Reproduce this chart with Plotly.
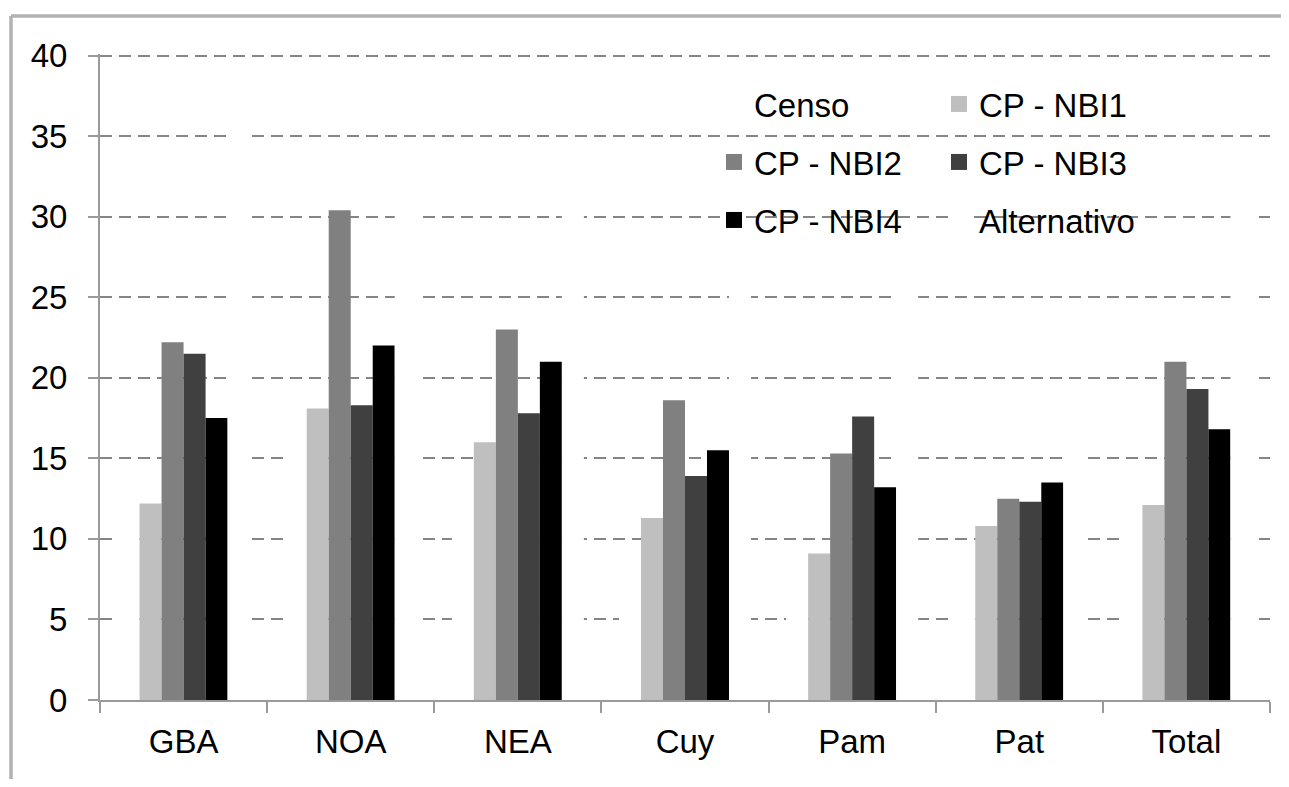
import plotly.graph_objects as go

# ---------------- data ----------------
categories = ["GBA", "NOA", "NEA", "Cuy", "Pam", "Pat", "Total"]
series_names = ["Censo", "CP - NBI1", "CP - NBI2", "CP - NBI3", "CP - NBI4", "Alternativo"]
censo = [12.5, 17.5, 13.5, 8.5, 7.5, 8.0, 12.5]
cp_nbi1 = [12.2, 18.1, 16.0, 11.3, 9.1, 10.8, 12.1]
cp_nbi2 = [22.2, 30.4, 23.0, 18.6, 15.3, 12.5, 21.0]
cp_nbi3 = [21.5, 18.3, 17.8, 13.9, 17.6, 12.3, 19.3]
cp_nbi4 = [17.5, 22.0, 21.0, 15.5, 13.2, 13.5, 16.8]
alternativo = [37.0, 32.0, 33.0, 29.0, 28.5, 17.0, 32.0]
y_ticks = [0, 5, 10, 15, 20, 25, 30, 35, 40]

series_values = [censo, cp_nbi1, cp_nbi2, cp_nbi3, cp_nbi4, alternativo]
colors = ["#ffffff", "#bfbfbf", "#808080", "#404040", "#000000", "#ffffff"]
legend_ids = ["legend", "legend", "legend2", "legend2", "legend3", "legend3"]

FONT = "Liberation Sans, Arial, sans-serif"
FS = 33

# ---------------- layout geometry (pixels) ----------------
OFF = 8                      # default page body margin
W, H = 1273, 771
L, R, T, B = 92, 11, 46, 79
PW = W - L - R
PH = H - T - B


def px_x(p):
    """viewport pixel x -> paper x"""
    return (p - OFF - L) / PW


def px_y(p):
    """viewport pixel y -> paper y"""
    return (H - B - (p - OFF)) / PH


fig = go.Figure()

for name, vals, col in zip(series_names, series_values, colors):
    fig.add_trace(go.Bar(
        x=categories, y=vals, name=name,
        marker=dict(color=col, line=dict(width=0)),
        showlegend=False,
    ))

# legend entries (square swatches)
for name, col, lg in zip(series_names, colors, legend_ids):
    fig.add_trace(go.Scatter(
        x=[None], y=[None], name=name, mode="markers",
        marker=dict(symbol="square", size=16, color=col, line=dict(width=0)),
        legend=lg, showlegend=True,
    ))

leg_common = dict(
    orientation="h", xanchor="left", yanchor="middle",
    font=dict(family=FONT, size=FS, color="#000000"),
    bgcolor="rgba(0,0,0,0)", borderwidth=0,
    entrywidth=180, entrywidthmode="pixels",
    itemclick=False, itemdoubleclick=False,
    tracegroupgap=0,
)
leg_x = px_x(714)

fig.update_layout(
    width=W, height=H,
    margin=dict(l=L, r=R, t=T, b=B, autoexpand=False),
    paper_bgcolor="#ffffff", plot_bgcolor="#ffffff",
    barmode="group", bargap=0.21, bargroupgap=0,
    font=dict(family=FONT, size=FS, color="#000000"),
    legend=dict(x=leg_x, y=px_y(104), **leg_common),
    legend2=dict(x=leg_x, y=px_y(162), **leg_common),
    legend3=dict(x=leg_x, y=px_y(220), **leg_common),
    xaxis=dict(
        type="category", categoryorder="array", categoryarray=categories,
        showline=True, linecolor="#9a9a9a", linewidth=2,
        ticks="outside", tickson="boundaries", ticklen=11, tickwidth=2, tickcolor="#9a9a9a",
        showgrid=False, zeroline=False, automargin=False,
        tickfont=dict(family=FONT, size=FS, color="#000000"),
        ticklabelstandoff=11,
    ),
    yaxis=dict(
        range=[0, 40.1], tickvals=y_ticks, ticktext=[str(v) for v in y_ticks],
        showline=True, linecolor="#9a9a9a", linewidth=2,
        ticks="outside", ticklen=10, tickwidth=2, tickcolor="#9a9a9a",
        showgrid=True, gridcolor="#858585", gridwidth=2, griddash="12px,7px",
        zeroline=False, automargin=False,
        tickfont=dict(family=FONT, size=FS, color="#000000"),
        ticklabelstandoff=14,
    ),
    shapes=[
        # white legend box hiding gridlines
        dict(type="rect", xref="paper", yref="paper", layer="between",
             x0=px_x(710), x1=px_x(1172), y0=px_y(248), y1=px_y(72),
             fillcolor="#ffffff", line=dict(width=0)),
        # outer chart frame (top and left edges; the rest runs off the picture)
        dict(type="line", xref="paper", yref="paper", layer="above",
             x0=px_x(11), x1=px_x(1300), y0=px_y(16), y1=px_y(16),
             line=dict(color="#c4c4c4", width=4)),
        dict(type="line", xref="paper", yref="paper", layer="above",
             x0=px_x(11), x1=px_x(11), y0=px_y(16), y1=px_y(800),
             line=dict(color="#c4c4c4", width=4)),
        dict(type="line", xref="paper", yref="paper", layer="above",
             x0=px_x(11), x1=px_x(1300), y0=px_y(16), y1=px_y(16),
             line=dict(color="#a0a0a0", width=1)),
        dict(type="line", xref="paper", yref="paper", layer="above",
             x0=px_x(11), x1=px_x(11), y0=px_y(16), y1=px_y(800),
             line=dict(color="#a0a0a0", width=1)),
    ],
)

fig.write_html("out.html")
